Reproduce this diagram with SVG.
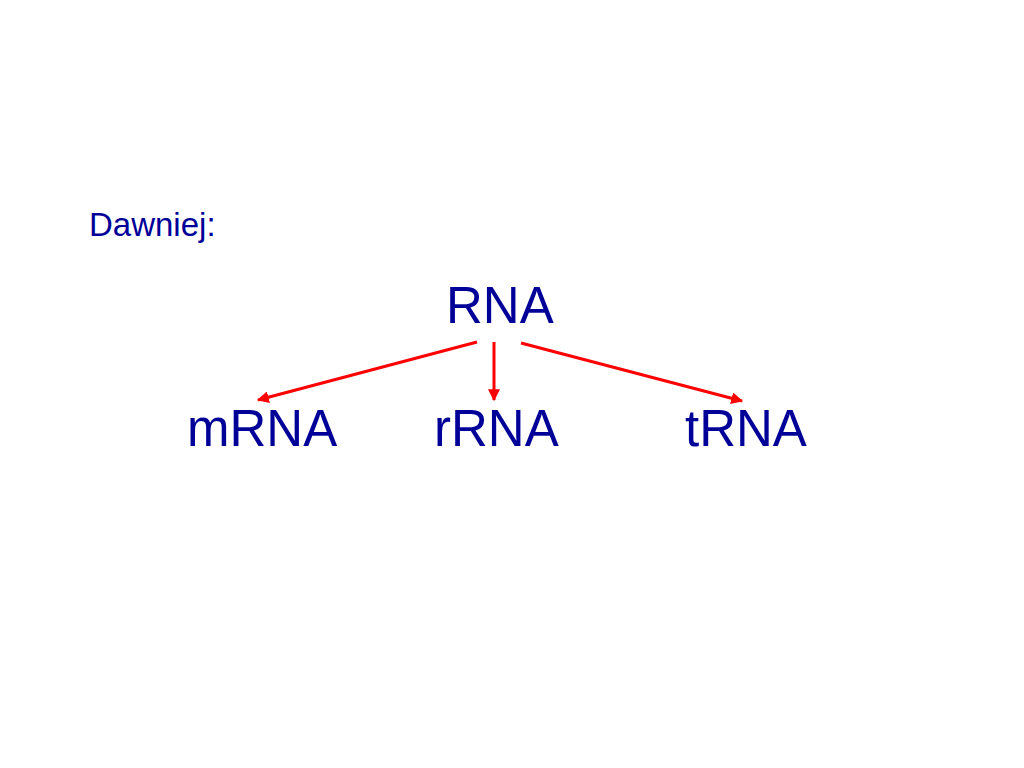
<svg xmlns="http://www.w3.org/2000/svg" width="1024" height="768" viewBox="0 0 1024 768">
<defs>
<style>
.t{font-family:"Liberation Sans",Arial,sans-serif;fill:#000099}
.big{font-size:51px}
.c{stroke:#ff0000;stroke-width:3;fill:none}
</style>
<marker id="ah" viewBox="0 0 10 10" refX="9" refY="5" markerWidth="4" markerHeight="4" orient="auto" markerUnits="strokeWidth">
<path d="M0,0 L10,5 L0,10 z" fill="#ff0000"/>
</marker>
</defs>
<rect width="1024" height="768" fill="#ffffff"/>
<g id="label-dawniej"><text class="t" x="89" y="236" font-size="33">Dawniej:</text></g>
<g id="node-rna"><text class="t big" x="446" y="323">RNA</text></g>
<g id="node-mrna"><text class="t big" x="187" y="446">mRNA</text></g>
<g id="node-rrna"><text class="t big" x="434" y="446">rRNA</text></g>
<g id="node-trna"><text class="t big" x="685" y="446">tRNA</text></g>
<g id="connectors">
<line class="c" x1="477" y1="342" x2="258" y2="400" marker-end="url(#ah)"/>
<line class="c" x1="494" y1="342" x2="494" y2="400" marker-end="url(#ah)"/>
<line class="c" x1="521" y1="343" x2="742" y2="401" marker-end="url(#ah)"/>
</g>
</svg>
